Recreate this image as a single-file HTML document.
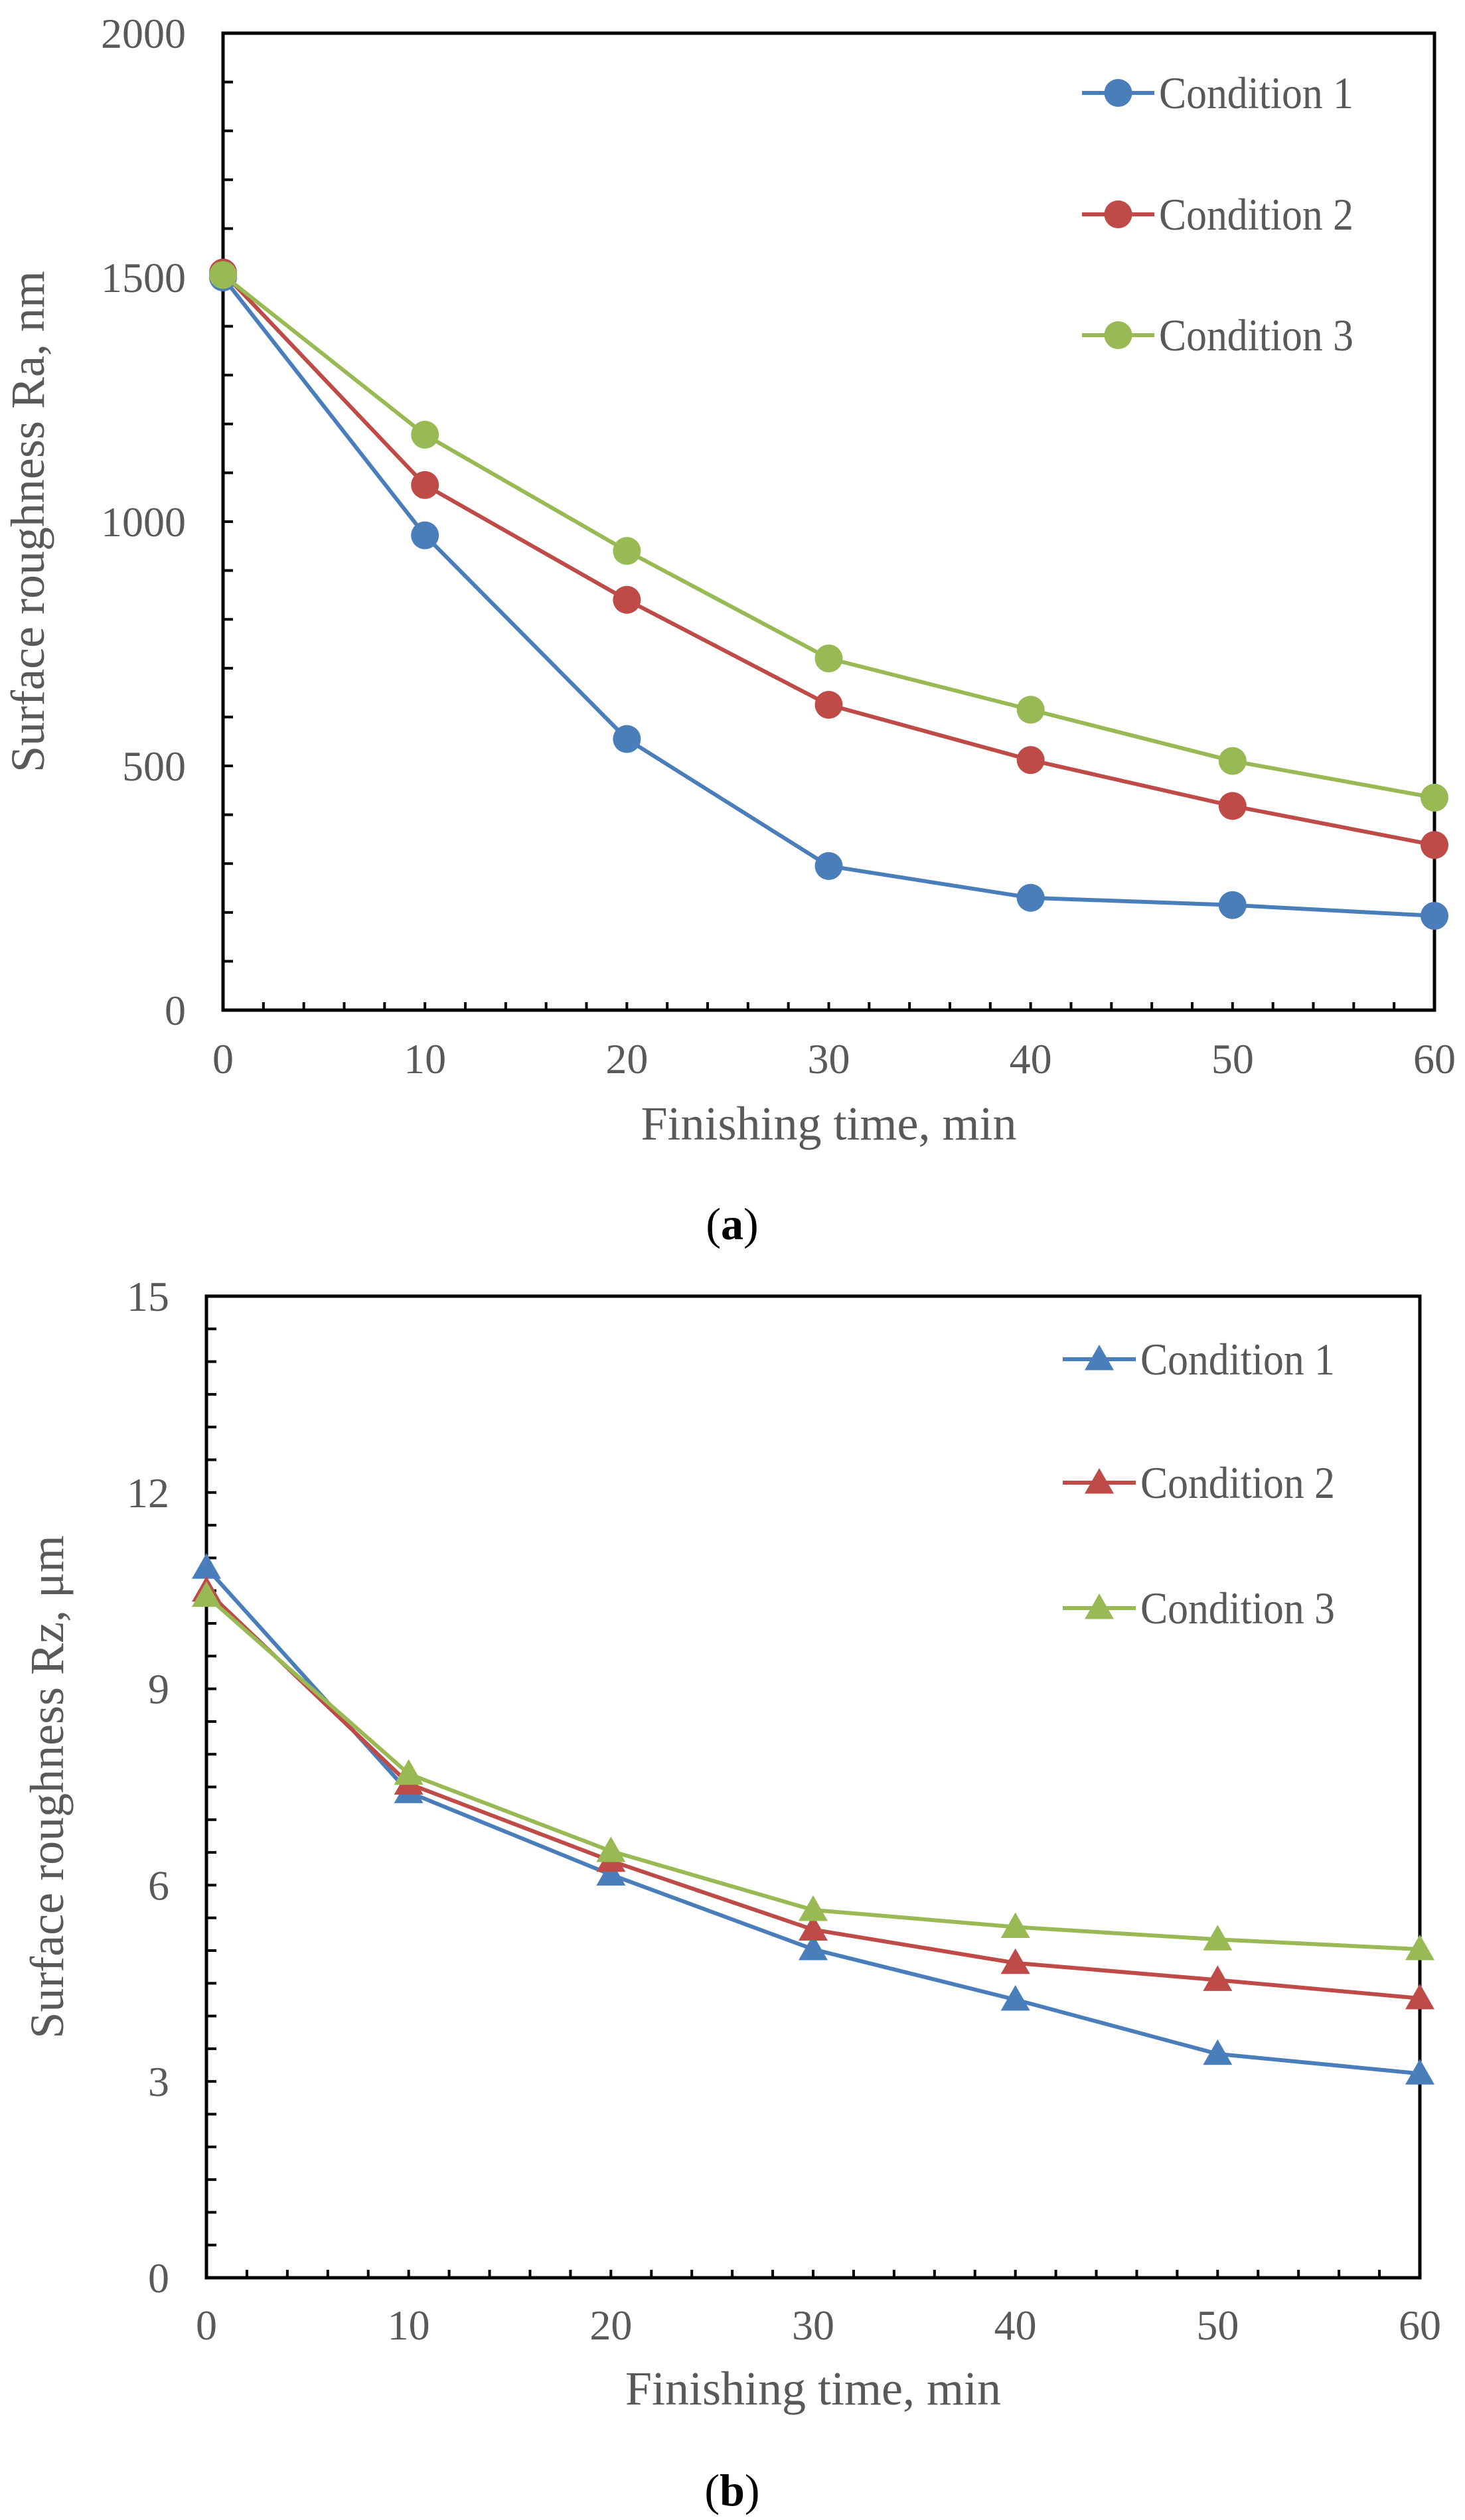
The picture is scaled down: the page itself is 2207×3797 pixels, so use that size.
<!DOCTYPE html>
<html><head><meta charset="utf-8"><style>
html,body{margin:0;padding:0;background:#fff;}
svg{display:block;}
text{font-family:"Liberation Serif",serif;}
</style></head><body>
<svg id="fig" width="2207" height="3797" viewBox="0 0 2207 3797" xmlns="http://www.w3.org/2000/svg"></svg>
<script>
const xValues = [0, 10, 20, 30, 40, 50, 60];
const xTickLabels = ["0","10","20","30","40","50","60"];
const seriesNames = ["Condition 1","Condition 2","Condition 3"];
const raC1 = [1500, 972, 555, 295, 230, 215, 193];
const raC2 = [1510, 1075, 840, 625, 512, 418, 338];
const raC3 = [1505, 1178, 940, 720, 615, 510, 435];
const raTicks = [0, 500, 1000, 1500, 2000];
const rzC1 = [10.85, 7.42, 6.16, 5.02, 4.25, 3.42, 3.12];
const rzC2 = [10.5, 7.55, 6.37, 5.32, 4.81, 4.55, 4.27];
const rzC3 = [10.42, 7.7, 6.52, 5.62, 5.36, 5.17, 5.02];
const rzTicks = [0, 3, 6, 9, 12, 15];

const NS = "http://www.w3.org/2000/svg";
const svg = document.getElementById('fig');
const colors = ["#4a7ebb", "#be4b48", "#98b954"];
function mk(tag, attrs, parent, txt) {
  const e = document.createElementNS(NS, tag);
  for (const k in attrs) e.setAttribute(k, attrs[k]);
  if (txt !== undefined) e.textContent = txt;
  (parent || svg).appendChild(e);
  return e;
}

function drawChart(cfg) {
  const g = mk('g', {});
  
  
  const L = cfg.left, R = cfg.right, T = cfg.top, B = cfg.bottom;
  const xs = v => L + (v - 0) / 60 * (R - L);
  const ys = v => B - (v - 0) / cfg.ymax * (B - T);
  // minor ticks x every 2
  for (let v = 2; v < 60; v += 2) {
    const t = mk('line', {x1: xs(v), x2: xs(v), y1: B, y2: B - 12, stroke: '#000', 'stroke-width': 4}, g);
    
    
  }
  for (let v = cfg.yminor; v < cfg.ymax - 1e-9; v += cfg.yminor) {
    const t = mk('line', {x1: L, x2: L + 15, y1: ys(v), y2: ys(v), stroke: '#000', 'stroke-width': 4}, g);
    
    
  }
  const frame = mk('rect', {x: L, y: T, width: R - L, height: B - T, fill: 'none', stroke: '#000', 'stroke-width': 5}, g);
  
  
  // y tick labels
  cfg.yticks.forEach(v => {
    const t = mk('text', {x: cfg.ylabRight, y: ys(v) + 22, 'text-anchor': 'end', 'font-size': 64, fill: '#595959'}, g, String(v));
    
    
  });
  xValues.forEach((v, i) => {
    const t = mk('text', {x: xs(v), y: cfg.xlabBase, 'text-anchor': 'middle', 'font-size': 64, fill: '#595959'}, g, xTickLabels[i]);
    
    
  });
  const xt = mk('text', {x: (L + R) / 2, y: cfg.xtitleBase, 'text-anchor': 'middle', 'font-size': 72, fill: '#595959', 'xml:space': 'preserve'}, g, 'Finishing  time, min');
  
  
  const cy = (T + B) / 2;
  const yt = mk('text', {x: 0, y: 0, transform: `translate(${cfg.ytitleX},${cy}) rotate(-90)`, 'text-anchor': 'middle', 'font-size': 72, fill: '#595959', 'xml:space': 'preserve'}, g, cfg.ytitle);
  
  
  // series
  cfg.series.forEach((data, si) => {
    const sg = mk('g', {}, g);
    
    
    const pts = data.map((v, i) => xs(xValues[i]) + ',' + ys(v)).join(' ');
    const pl = mk('polyline', {points: pts, fill: 'none', stroke: colors[si], 'stroke-width': 6, 'stroke-linejoin': 'round'}, sg);
    
    
    data.forEach((v, i) => {
      const m = marker(cfg.marker, xs(xValues[i]), ys(v), colors[si], sg);
      
      
    });
  });
  // legend
  const lg = mk('g', {}, g);
  
  
  seriesNames.forEach((n, si) => {
    const y = cfg.legY[si];
    const eg = mk('g', {}, lg);
    
    
    mk('line', {x1: cfg.legX1, x2: cfg.legX2, y1: y, y2: y, stroke: colors[si], 'stroke-width': 6}, eg);
    marker(cfg.marker, (cfg.legX1 + cfg.legX2) / 2, y, colors[si], eg);
    mk('text', {x: cfg.legX2 + 7, y: y + 23, 'font-size': 68, fill: '#595959', textLength: 293, lengthAdjust: 'spacingAndGlyphs'}, eg, n);
  });
  const cap = mk('text', {x: 1103, y: cfg.capBase, 'text-anchor': 'middle', 'font-size': 68, fill: '#000'}, g);
  
  
  mk('tspan', {}, cap, '(');
  mk('tspan', {'font-weight': 'bold'}, cap, cfg.cap);
  mk('tspan', {}, cap, ')');
}
function marker(type, x, y, c, parent) {
  if (type === 'circle') return mk('circle', {cx: x, cy: y, r: 21, fill: c}, parent);
  const s = 22;
  return mk('polygon', {points: `${x},${y - s} ${x + s},${y + s * 0.75} ${x - s},${y + s * 0.75}`, fill: c}, parent);
}

drawChart({name: 'chart-a-ra', left: 336, right: 2161, top: 50, bottom: 1522, ymax: 2000, yminor: 100,
  yticks: raTicks, ylabRight: 280, xlabBase: 1617, xtitleBase: 1717, ytitleX: 66, ytitle: 'Surface  roughness  Ra, nm',
  series: [raC1, raC2, raC3], marker: 'circle', legY: [140, 323, 505], legX1: 1630, legX2: 1739, cap: 'a', capBase: 1867});
drawChart({name: 'chart-b-rz', left: 311, right: 2139, top: 1953, bottom: 3432, ymax: 15, yminor: 0.5,
  yticks: rzTicks, ylabRight: 255, xlabBase: 3525, xtitleBase: 3623, ytitleX: 95, ytitle: 'Surface  roughness  Rz, μm',
  series: [rzC1, rzC2, rzC3], marker: 'triangle', legY: [2048, 2234, 2423], legX1: 1601, legX2: 1711, cap: 'b', capBase: 3775});
</script>
</body></html>
